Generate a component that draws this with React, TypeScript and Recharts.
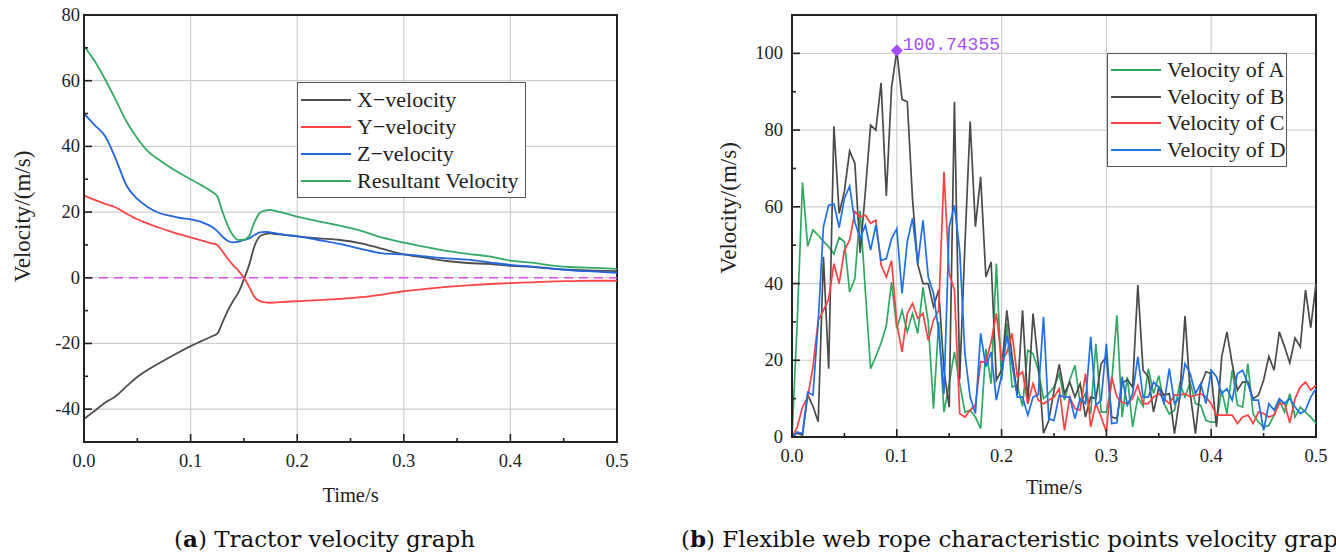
import React from "react";
import {
  LineChart,
  Line,
  XAxis,
  YAxis,
  CartesianGrid,
  ReferenceLine,
  ReferenceArea,
  ReferenceDot,
  Legend,
} from "recharts";

const SERIF = '"Liberation Serif", "Times New Roman", serif';
const INK = "#222";

// ---- panel (a): tractor velocity ----
const aTime = [
  0, 0.01, 0.02, 0.03, 0.04, 0.05, 0.06, 0.07, 0.08, 0.09, 0.1, 0.11, 0.12, 0.125, 0.13, 0.135,
  0.14, 0.145, 0.15, 0.155, 0.16, 0.165, 0.17, 0.175, 0.18, 0.19, 0.2, 0.22, 0.24, 0.26, 0.28,
  0.3, 0.32, 0.34, 0.36, 0.38, 0.4, 0.42, 0.44, 0.46, 0.48, 0.5,
];
const xVelocity = [
  -43, -40.5, -38, -36, -33, -30.2, -28, -26.1, -24.3, -22.5, -20.8, -19.3, -17.8, -17, -13.5,
  -9.9, -7, -4.4, -0.5, 4, 9.7, 12.6, 13.3, 13.5, 13.3, 13, 12.6, 12, 11.5, 10.5, 8.8, 7.1, 6.1,
  5.1, 4.5, 4.2, 3.6, 3.3, 2.7, 2.4, 2.2, 2,
];
const yVelocity = [
  25, 23.7, 22.5, 21.4, 19.5, 17.8, 16.5, 15.3, 14.2, 13.2, 12.3, 11.4, 10.5, 10, 8, 5.7, 3.8,
  2.1, 0, -2.8, -5.9, -7.1, -7.5, -7.6, -7.5, -7.3, -7.1, -6.8, -6.4, -5.9, -5.1, -4.1, -3.4,
  -2.8, -2.3, -1.9, -1.6, -1.4, -1.1, -1.0, -0.9, -0.9,
];
const zVelocity = [
  50, 46.5, 43, 36, 28, 24, 21.5, 19.8, 18.9, 18.2, 17.8, 17, 15.5, 14.2, 12.5, 11.2, 10.8, 11,
  11.5, 12, 13, 13.8, 14, 13.8, 13.5, 13, 12.6, 11.5, 10.3, 8.8, 7.4, 7.1, 6.5, 5.9, 5.5, 4.7,
  3.9, 3.4, 2.8, 2.2, 1.9, 1.5,
];
const resultantVelocity = [
  70.5, 66, 60.3, 54, 47.5, 42.5, 38.5, 36, 33.8, 31.8, 30, 28.2, 26.2, 24.8, 20, 15.8, 12.8,
  11.5, 11.6, 12.8, 17, 19.8, 20.5, 20.7, 20.3, 19.5, 18.6, 17.2, 15.9, 14.3, 12.2, 10.7, 9.4,
  8.2, 7.3, 6.5, 5.2, 4.6, 3.7, 3.2, 3.0, 2.7,
];
const aXTicks = [0, 0.05, 0.1, 0.15, 0.2, 0.25, 0.3, 0.35, 0.4, 0.45, 0.5];
const aYTicks = [-40, -30, -20, -10, 0, 10, 20, 30, 40, 50, 60, 70, 80];
const aYMajor = [-40, -20, 0, 20, 40, 60, 80];
const aLegend = ["X\u2212velocity", "Y\u2212velocity", "Z\u2212velocity", "Resultant Velocity"];
const aColors = ["#4d4d4d", "#ff4444", "#2166dd", "#33aa66"];

// ---- panel (b): characteristic points velocity ----
const bTime = [
  0, 0.005, 0.01, 0.015, 0.02, 0.025, 0.03, 0.035, 0.04, 0.045, 0.05, 0.055, 0.06, 0.065, 0.07,
  0.075, 0.08, 0.085, 0.09, 0.095, 0.1, 0.105, 0.11, 0.115, 0.12, 0.125, 0.13, 0.135, 0.14,
  0.145, 0.15, 0.155, 0.16, 0.165, 0.17, 0.175, 0.18, 0.185, 0.19, 0.195, 0.2, 0.205, 0.21,
  0.215, 0.22, 0.225, 0.23, 0.235, 0.24, 0.245, 0.25, 0.255, 0.26, 0.265, 0.27, 0.275, 0.28,
  0.285, 0.29, 0.295, 0.3, 0.305, 0.31, 0.315, 0.32, 0.325, 0.33, 0.335, 0.34, 0.345, 0.35,
  0.355, 0.36, 0.365, 0.37, 0.375, 0.38, 0.385, 0.39, 0.395, 0.4, 0.405, 0.41, 0.415, 0.42,
  0.425, 0.43, 0.435, 0.44, 0.445, 0.45, 0.455, 0.46, 0.465, 0.47, 0.475, 0.48, 0.485, 0.49,
  0.495, 0.5,
];
const velocityA = [
  0, 30, 66.3, 49.7, 54, 52.6, 51, 49.6, 47.7, 52, 50.9, 37.8, 41.3, 59, 38, 17.8, 21, 24.5, 29,
  40.4, 28.3, 33, 27.4, 32.2, 27, 39, 30, 7.4, 30, 6.5, 13.9, 22.2, 13.9, 6.5, 7, 5.2, 2.2, 23,
  13.9, 45.2, 14.8, 29.6, 13, 13.5, 8, 22.6, 21.7, 17.4, 10, 11.3, 13, 16.5, 9.6, 14.8, 18.7,
  8.7, 11.3, 6.1, 24.3, 6.5, 6.5, 14, 31.7, 5.2, 15.7, 2.6, 10.4, 8, 17.8, 11.3, 16, 8.7, 6, 7,
  13.9, 10.4, 14.3, 8.7, 8.3, 4.3, 3.9, 3.9, 12.2, 6, 17.4, 8.3, 7.8, 19.1, 6, 3.9, 2.6, 3, 5.7,
  9.6, 6.5, 11.3, 5.2, 7.8, 6.5, 5.2, 3.5,
];
const velocityB = [
  0, 1, 0.5, 11, 8, 4, 47, 17.8, 81, 58.3, 64, 74.6, 71.3, 48, 64, 81.3, 80, 92.3, 62.8, 91.1,
  100.74355, 88, 87.4, 62, 45, 40, 40, 34, 38.3, 17.4, 7.8, 87.4, 15, 50, 82.2, 54.8, 67.8, 41.7,
  45.6, 14.8, 17.4, 33, 21, 11, 33, 8.7, 32.2, 19, 1, 4.3, 12, 18.9, 11.3, 14.3, 10.4, 13.9, 5.2,
  10.4, 10, 19.1, 20.9, 5.2, 4.8, 13.9, 15, 13, 39.6, 17.4, 15.7, 6.5, 13, 10.9, 11.3, 0.9, 10.4,
  31.5, 11.3, 0.9, 13.5, 17, 16.5, 2.6, 20.9, 27.4, 19.1, 12.2, 14.3, 14.3, 10, 10.9, 14.8, 21,
  17.4, 27.4, 23.5, 19.3, 25.8, 23.5, 38.3, 28.5, 40,
];
const velocityC = [
  0, 2.6, 7.8, 10.4, 18.3, 30.4, 33, 36, 45.2, 40, 48.7, 51.3, 58.7, 57.4, 57.8, 55.7, 56.5,
  44.8, 41.7, 46, 29.6, 22.2, 32.2, 34.8, 30.9, 32.2, 25.2, 30.4, 33, 69.1, 42.6, 38.3, 6.1, 5.2,
  7, 8.3, 19.6, 19.6, 24.8, 32.2, 20, 22, 27, 15.7, 17, 8.7, 13.9, 9.6, 8.7, 9.6, 10.4, 12.6, 1.7,
  10.4, 7.4, 7, 16.5, 2.6, 8.7, 5.2, 1.3, 15.7, 10.4, 9, 8.7, 10, 13.5, 8.7, 8.7, 10.4, 11.3, 10,
  8.7, 10.9, 10.9, 11.3, 10.4, 10.9, 11.3, 10.4, 8.7, 5.7, 5.7, 5.7, 5.7, 3.5, 5.2, 5.7, 3.5, 6.5,
  6.1, 5.2, 5.7, 8.7, 8.7, 3.7, 10, 13, 14.3, 12.2, 13.5,
];
const velocityD = [
  0, 1.3, 0.9, 11.7, 10.9, 30, 54.8, 60.4, 60.7, 54.6, 62.2, 65.4, 56, 51.7, 55.2, 48.7, 55.2,
  46, 46.5, 51.7, 54.3, 37.4, 50.9, 57, 45.2, 56.5, 41.7, 37.4, 27.4, 11.3, 54.8, 60.4, 48.7,
  21.7, 10.4, 6.1, 27, 18.3, 22.2, 9.6, 16.1, 26.5, 19, 10.4, 10.4, 5.7, 10.4, 11, 31.3, 4.8, 4.3,
  10.9, 10.4, 10.4, 4.8, 10, 8.7, 26.1, 8.3, 9.6, 24.3, 3.5, 3.7, 15.7, 8.3, 11.3, 20.9, 10.4,
  10.4, 14.3, 13, 8.7, 17.8, 8.7, 10.4, 19.1, 16.5, 11.3, 13.9, 8.7, 17.4, 15.7, 11.3, 12.6, 9.6,
  16.5, 17.4, 13.9, 9.6, 9.6, 1.7, 8.7, 7, 10, 8.7, 10, 7.8, 6.1, 7, 10.4, 12.6,
];
const bXTicks = [0, 0.05, 0.1, 0.15, 0.2, 0.25, 0.3, 0.35, 0.4, 0.45, 0.5];
const bYTicks = [0, 10, 20, 30, 40, 50, 60, 70, 80, 90, 100];
const bYMajor = [0, 20, 40, 60, 80, 100];
const bLegend = ["Velocity of A", "Velocity of B", "Velocity of C", "Velocity of D"];
const bColors = ["#2fa862", "#4a4a4a", "#ff4040", "#1f6fe6"];
const peakTime = 0.1;
const peakValue = 100.74355;

const gridX = [0.1, 0.2, 0.3, 0.4];

const aData = aTime.map((t, i) => ({
  t,
  x: xVelocity[i],
  y: yVelocity[i],
  z: zVelocity[i],
  r: resultantVelocity[i],
}));
const bData = bTime.map((t, i) => ({
  t,
  a: velocityA[i],
  b: velocityB[i],
  c: velocityC[i],
  d: velocityD[i],
}));

const isTenth = (v: number) => Math.abs(v * 10 - Math.round(v * 10)) < 1e-6;

function XTick(props: any) {
  const { x, y, payload } = props;
  const major = isTenth(payload.value);
  return (
    <g>
      <line x1={x} x2={x} y1={y} y2={y - (major ? 8 : 4)} stroke={INK} strokeWidth={1.6} />
      {major && (
        <text x={x} y={y + 25} textAnchor="middle" fontSize={18.5} fontFamily={SERIF} fill={INK}>
          {payload.value.toFixed(1)}
        </text>
      )}
    </g>
  );
}

function makeYTick(majors: number[], gap: number) {
  return (props: any) => {
    const { x, y, payload } = props;
    const major = majors.includes(payload.value);
    return (
      <g>
        <line x1={x} x2={x + (major ? 8 : 4)} y1={y} y2={y} stroke={INK} strokeWidth={1.6} />
        {major && (
          <text x={x - gap} y={y + 6} textAnchor="end" fontSize={18.5} fontFamily={SERIF} fill={INK}>
            {payload.value}
          </text>
        )}
      </g>
    );
  };
}

function yTitle(dx: number, dy: number) {
  return (props: any) => {
    const vb = props.viewBox;
    const cx = vb.x + dx;
    const cy = vb.y + vb.height / 2 + dy;
    return (
      <text
        x={cx}
        y={cy}
        transform={`rotate(-90 ${cx} ${cy})`}
        textAnchor="middle"
        dominantBaseline="central"
        fontSize={23}
        fontFamily={SERIF}
        fill={INK}
      >
        Velocity/(m/s)
      </text>
    );
  };
}

function LegendBox({ names, colors, rowGap }: { names: string[]; colors: string[]; rowGap: number }) {
  return (
    <div
      style={{
        border: "1.5px solid #555",
        background: "#fff",
        padding: "3px 4px 3px 3px",
        fontFamily: SERIF,
        fontSize: 22,
        color: INK,
        boxSizing: "border-box",
      }}
    >
      {names.map((n, i) => (
        <div key={n} style={{ display: "flex", alignItems: "center", height: rowGap, whiteSpace: "nowrap" }}>
          <svg width={50} height={4} style={{ marginRight: 6, flex: "none" }}>
            <line x1={0} x2={50} y1={2} y2={2} stroke={colors[i]} strokeWidth={2} />
          </svg>
          <span>{n}</span>
        </div>
      ))}
    </div>
  );
}

function Diamond(props: any) {
  const { cx, cy } = props;
  const s = 6;
  return (
    <g>
      <polygon
        points={`${cx},${cy - s} ${cx + s},${cy} ${cx},${cy + s} ${cx - s},${cy}`}
        fill="#a64dff"
      />
      <text x={cx + 6} y={cy - 1} fontSize={18} fontFamily='"Liberation Mono", monospace' fill="#a64dff">
        {peakValue.toFixed(5)}
      </text>
    </g>
  );
}

const captionStyle: React.CSSProperties = {
  position: "absolute",
  top: 525,
  fontFamily: '"DejaVu Serif", serif',
  fontSize: 23,
  color: "#111",
  whiteSpace: "nowrap",
};

export default function App() {
  return (
    <div
      style={{
        position: "absolute",
        left: 0,
        top: 0,
        width: 1336,
        height: 557,
        background: "#fff",
        overflow: "hidden",
      }}
    >
      <div style={{ position: "absolute", left: 0, top: 0 }}>
        <LineChart width={640} height={510} data={aData} margin={{ top: 15, right: 23, bottom: 40, left: 0 }}>
          <CartesianGrid stroke="#cfcfcf" strokeWidth={1.2} horizontalValues={aYMajor} verticalValues={gridX} />
          <XAxis
            dataKey="t"
            type="number"
            domain={[0, 0.5]}
            ticks={aXTicks}
            interval={0}
            height={28}
            tickSize={0}
            tickMargin={0}
            tickLine={false}
            axisLine={{ stroke: INK, strokeWidth: 2 }}
            tick={(p: any) => <XTick {...p} />}
            label={{ value: "Time/s", position: "bottom", offset: 17, fontSize: 20.5, fontFamily: SERIF, fill: INK }}
          />
          <YAxis
            type="number"
            domain={[-50, 80]}
            ticks={aYTicks}
            interval={0}
            width={84}
            tickSize={0}
            tickMargin={0}
            tickLine={false}
            axisLine={{ stroke: INK, strokeWidth: 2 }}
            tick={makeYTick(aYMajor, 4)}
            label={{ content: yTitle(22, -12) }}
          />
          <ReferenceLine y={0} stroke="#dd55ee" strokeWidth={1.6} strokeDasharray="9 6" />
          <Line dataKey="x" type="monotone" stroke={aColors[0]} strokeWidth={1.8} dot={false} isAnimationActive={false} />
          <Line dataKey="y" type="monotone" stroke={aColors[1]} strokeWidth={1.8} dot={false} isAnimationActive={false} />
          <Line dataKey="z" type="monotone" stroke={aColors[2]} strokeWidth={1.8} dot={false} isAnimationActive={false} />
          <Line dataKey="r" type="monotone" stroke={aColors[3]} strokeWidth={1.8} dot={false} isAnimationActive={false} />
          <ReferenceArea x1={0} x2={0.5} y1={-50} y2={80} fill="none" fillOpacity={0} stroke={INK} strokeWidth={2} />
          <Legend
            layout="vertical"
            align="center"
            verticalAlign="middle"
            wrapperStyle={{ left: 297, top: 82, width: 229, height: 112 }}
            content={() => <LegendBox names={aLegend} colors={aColors} rowGap={27} />}
          />
        </LineChart>
      </div>

      <div style={{ position: "absolute", left: 700, top: 0 }}>
        <LineChart width={636} height={510} data={bData} margin={{ top: 15, right: 20, bottom: 45, left: 0 }}>
          <CartesianGrid stroke="#cfcfcf" strokeWidth={1.2} horizontalValues={[20, 40, 60, 80, 100]} verticalValues={gridX} />
          <XAxis
            dataKey="t"
            type="number"
            domain={[0, 0.5]}
            ticks={bXTicks}
            interval={0}
            height={28}
            tickSize={0}
            tickMargin={0}
            tickLine={false}
            axisLine={{ stroke: INK, strokeWidth: 2 }}
            tick={(p: any) => <XTick {...p} />}
            label={{ value: "Time/s", position: "bottom", offset: 14, fontSize: 20.5, fontFamily: SERIF, fill: INK }}
          />
          <YAxis
            type="number"
            domain={[0, 110]}
            ticks={bYTicks}
            interval={0}
            width={92}
            tickSize={0}
            tickMargin={0}
            tickLine={false}
            axisLine={{ stroke: INK, strokeWidth: 2 }}
            tick={makeYTick(bYMajor, 9)}
            label={{ content: yTitle(28, -18) }}
          />
          <Line dataKey="a" type="linear" stroke={bColors[0]} strokeWidth={1.7} dot={false} isAnimationActive={false} />
          <Line dataKey="b" type="linear" stroke={bColors[1]} strokeWidth={1.7} dot={false} isAnimationActive={false} />
          <Line dataKey="c" type="linear" stroke={bColors[2]} strokeWidth={1.7} dot={false} isAnimationActive={false} />
          <Line dataKey="d" type="linear" stroke={bColors[3]} strokeWidth={1.7} dot={false} isAnimationActive={false} />
          <ReferenceArea x1={0} x2={0.5} y1={0} y2={110} fill="none" fillOpacity={0} stroke={INK} strokeWidth={2} />
          <ReferenceDot x={peakTime} y={peakValue} r={6} shape={(p: any) => <Diamond {...p} />} />
          <Legend
            layout="vertical"
            align="center"
            verticalAlign="middle"
            wrapperStyle={{ left: 407, top: 53, width: 180, height: 112 }}
            content={() => <LegendBox names={bLegend} colors={bColors} rowGap={26.5} />}
          />
        </LineChart>
      </div>

      <div style={{ ...captionStyle, left: 174 }}>
        (<b>a</b>) Tractor velocity graph
      </div>
      <div style={{ ...captionStyle, left: 681 }}>
        (<b>b</b>) Flexible web rope characteristic points velocity graph
      </div>
    </div>
  );
}
